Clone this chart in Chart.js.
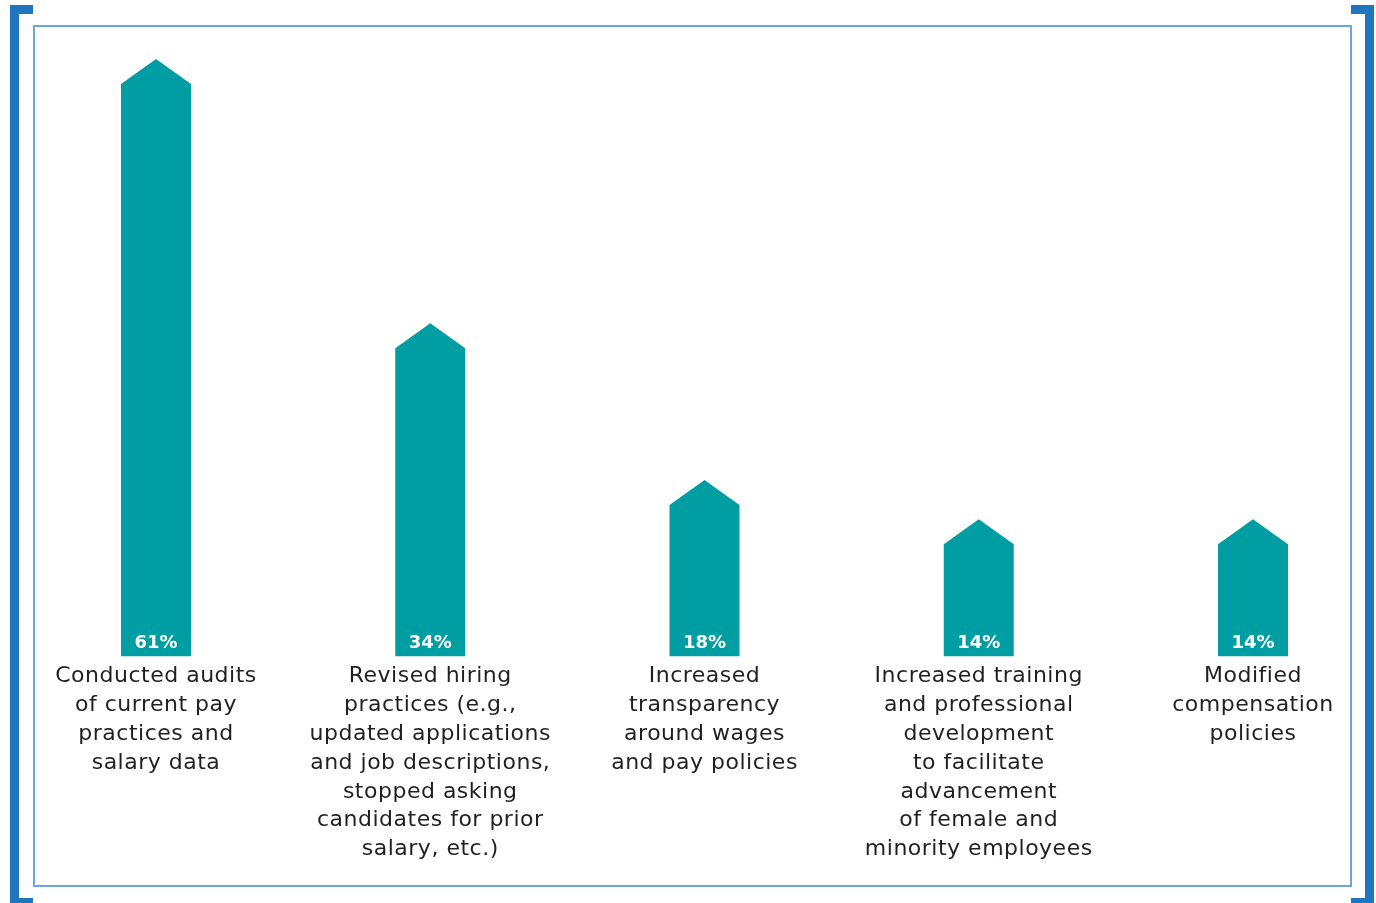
<!DOCTYPE html>
<html>
<head>
<meta charset="utf-8">
<script src="https://cdn.jsdelivr.net/npm/chart.js@4"></script>
<style>
  html, body { margin: 0; padding: 0; background: #ffffff; }
  #wrap { position: relative; width: 1376px; height: 903px; overflow: hidden; }
  #chart { position: absolute; left: 0; top: 0; }
  .box { position: absolute; left: 33px; top: 25px; width: 1315px; height: 858px; border: 2px solid #6aa6dc; }
  .bk { position: absolute; background: #2075bf; }
</style>
</head>
<body>
<div id="wrap">
  <canvas id="chart" width="1376" height="903"></canvas>
  <div class="box"></div>
  <!-- left bracket -->
  <div class="bk" style="left:10px; top:5px; width:9px; height:898px;"></div>
  <div class="bk" style="left:10px; top:5px; width:23px; height:9px;"></div>
  <div class="bk" style="left:10px; top:898px; width:23px; height:5px;"></div>
  <!-- right bracket -->
  <div class="bk" style="left:1365px; top:5px; width:9px; height:898px;"></div>
  <div class="bk" style="left:1351px; top:5px; width:23px; height:9px;"></div>
  <div class="bk" style="left:1351px; top:898px; width:23px; height:5px;"></div>
</div>

<script>
const categories = [
    ["Conducted audits", "of current pay", "practices and", "salary data"],
    ["Revised hiring", "practices (e.g.,", "updated applications", "and job descriptions,", "stopped asking", "candidates for prior", "salary, etc.)"],
    ["Increased", "transparency", "around wages", "and pay policies"],
    ["Increased training", "and professional", "development", "to facilitate", "advancement", "of female and", "minority employees"],
    ["Modified", "compensation", "policies"]
]
const percents = [61, 34, 18, 14, 14]

const barColor = "#009ea3"
const textColor = "#231f20"
const fontFamily = "'DejaVu Sans', 'Noto Sans', sans-serif"

// slightly tracked-out lettering for the axis labels
const tracking = {
    id: "tracking",
    beforeDraw(chart) {
        chart.ctx.letterSpacing = "0.5px"
    }
}

// bars are drawn as arrows: rectangle with a pointed cap, peak at the value
const arrowBars = {
    id: "arrowBars",
    afterDatasetsDraw(chart) {
        const ctx = chart.ctx
        const meta = chart.getDatasetMeta(0)
        ctx.save()
        ctx.letterSpacing = "0px"
        meta.data.forEach((bar, i) => {
            const half = bar.width / 2
            const cap = 25
            ctx.fillStyle = barColor
            ctx.beginPath()
            ctx.moveTo(bar.x - half, bar.base)
            ctx.lineTo(bar.x - half, bar.y + cap)
            ctx.lineTo(bar.x, bar.y)
            ctx.lineTo(bar.x + half, bar.y + cap)
            ctx.lineTo(bar.x + half, bar.base)
            ctx.closePath()
            ctx.fill()

            ctx.fillStyle = "#ffffff"
            ctx.font = "bold 18px " + fontFamily
            ctx.textAlign = "center"
            ctx.textBaseline = "middle"
            ctx.fillText(percents[i] + "%", bar.x, bar.base - 13)
        })
        ctx.restore()
    }
}

new Chart(document.getElementById("chart"), {
    type: "bar",
    data: {
        labels: categories,
        datasets: [{
            data: percents,
            backgroundColor: "rgba(0,0,0,0)",
            barThickness: 70,
            clip: false
        }]
    },
    options: {
        responsive: false,
        animation: false,
        layout: {
            padding: { top: 59, left: 156, right: 123, bottom: 33 }
        },
        plugins: {
            legend: { display: false },
            tooltip: { enabled: false }
        },
        scales: {
            x: {
                offset: false,
                grid: { display: false, drawTicks: false, tickLength: 0 },
                border: { display: false },
                ticks: {
                    autoSkip: false,
                    maxRotation: 0,
                    padding: 6,
                    color: textColor,
                    font: { family: fontFamily, size: 22, lineHeight: 1.31 }
                }
            },
            y: {
                display: false,
                min: 0,
                max: 61
            }
        }
    },
    plugins: [tracking, arrowBars]
})
</script>
</body>
</html>
